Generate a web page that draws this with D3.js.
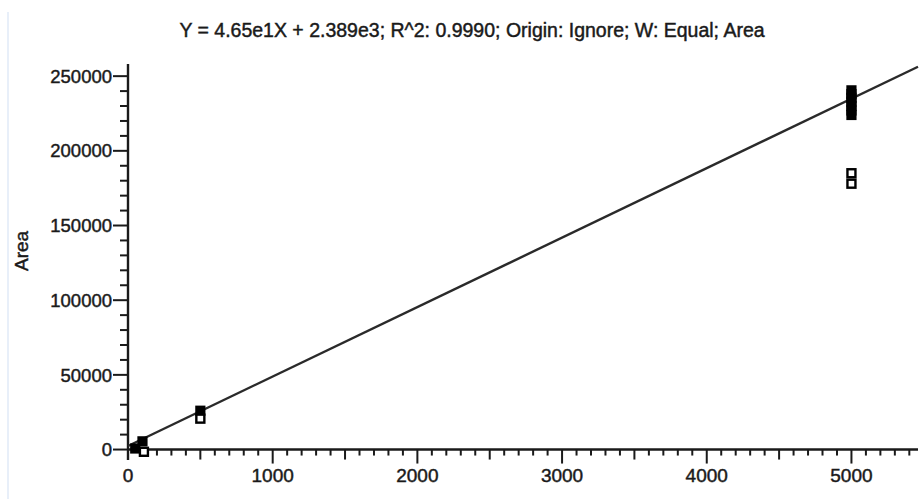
<!DOCTYPE html>
<html>
<head>
<meta charset="utf-8">
<script src="https://cdn.jsdelivr.net/npm/d3@7/dist/d3.min.js"></script>
<style>
  html, body { margin: 0; padding: 0; background: #fff; }
  svg { display: block; }
  text { font-family: "Liberation Sans", Arial, sans-serif; fill: #1a1a1a; stroke: #1a1a1a; stroke-width: 0.45px; }
</style>
</head>
<body>
<svg id="chart" width="924" height="499"></svg>
<script>
// Calibration data: concentration (X) vs peak area (Y)
const usedX    = [50, 100, 500, 5000, 5000, 5000, 5000, 5000, 5000, 5000];
const usedY    = [700, 5500, 26000, 240500, 238000, 235500, 233000, 230000, 227000, 224000];
const excludedX = [110, 500, 5000, 5000];
const excludedY = [-1500, 20700, 185000, 178000];

// Linear fit Y = slope * X + intercept
const slope = 46.5;
const intercept = 2389;
const title = "Y = 4.65e1X + 2.389e3; R^2: 0.9990; Origin: Ignore; W: Equal; Area";
const yLabel = "Area";

const xMajor = [0, 1000, 2000, 3000, 4000, 5000];
const yMajor = [0, 50000, 100000, 150000, 200000, 250000];

const svg = d3.select("#chart");

// faint frame edge on the left
svg.append("rect").attr("x", 7).attr("y", 12).attr("width", 2).attr("height", 487)
  .attr("fill", "#e8eff9");

const xMax = 5460;
const x = d3.scaleLinear().domain([0, xMax]).range([128, 918]);
const y = d3.scaleLinear().domain([-7000, 258139]).range([460, 64]);

const ink = "#1a1a1a";

// X axis at Y = 0
const gx = svg.append("g").attr("transform", `translate(0,${y(0)})`);
gx.append("line").attr("x1", x(0)).attr("x2", x(xMax)).attr("stroke", ink).attr("stroke-width", 2.4);
const xMinor = d3.range(100, xMax, 100);
gx.selectAll("line.tick").data(xMinor).join("line")
  .attr("class", "tick")
  .attr("x1", d => x(d)).attr("x2", d => x(d))
  .attr("y1", 0)
  .attr("y2", d => d % 1000 === 0 ? 14 : (d % 500 === 0 ? 10 : 6))
  .attr("stroke", ink).attr("stroke-width", 2);
gx.selectAll("text").data(xMajor).join("text")
  .attr("x", d => x(d)).attr("y", 32)
  .attr("text-anchor", "middle")
  .attr("font-size", 19)
  .text(d => d);

// Y axis
const gy = svg.append("g").attr("transform", `translate(${x(0)},0)`);
gy.append("line").attr("y1", y(-7000)).attr("y2", y(258139)).attr("stroke", ink).attr("stroke-width", 2.4);
const yMinor = d3.range(0, 255000, 10000);
gy.selectAll("line.tick").data(yMinor).join("line")
  .attr("class", "tick")
  .attr("y1", d => y(d)).attr("y2", d => y(d))
  .attr("x1", d => d % 50000 === 0 ? -15 : -8).attr("x2", 0)
  .attr("stroke", ink).attr("stroke-width", 2);
gy.selectAll("text").data(yMajor).join("text")
  .attr("x", -16).attr("y", d => y(d))
  .attr("dy", "0.36em")
  .attr("text-anchor", "end")
  .attr("font-size", 18.5)
  .text(d => d);

// axis title
svg.append("text")
  .attr("transform", `translate(28,${y(133000)}) rotate(-90)`)
  .attr("text-anchor", "middle")
  .attr("font-size", 19)
  .text(yLabel);

// chart title
svg.append("text")
  .attr("x", 472).attr("y", 37)
  .attr("text-anchor", "middle")
  .attr("font-size", 19.5)
  .text(title);

// regression line
svg.append("line")
  .attr("x1", x(0)).attr("y1", y(intercept))
  .attr("x2", x(xMax)).attr("y2", y(slope * xMax + intercept))
  .attr("stroke", "#2a2a2a").attr("stroke-width", 2.4);

// points used in the fit (filled squares)
const s = 8;
svg.selectAll("rect.used").data(usedX.map((d, i) => [d, usedY[i]])).join("rect")
  .attr("class", "used")
  .attr("x", d => x(d[0]) - s / 2).attr("y", d => y(d[1]) - s / 2)
  .attr("width", s).attr("height", s)
  .attr("fill", "#000").attr("stroke", "#000").attr("stroke-width", 2.2);

// excluded points (open squares)
svg.selectAll("rect.excl").data(excludedX.map((d, i) => [d, excludedY[i]])).join("rect")
  .attr("class", "excl")
  .attr("x", d => x(d[0]) - s / 2).attr("y", d => y(d[1]) - s / 2)
  .attr("width", s).attr("height", s)
  .attr("fill", "#fff").attr("stroke", "#000").attr("stroke-width", 2.4);
</script>
</body>
</html>
